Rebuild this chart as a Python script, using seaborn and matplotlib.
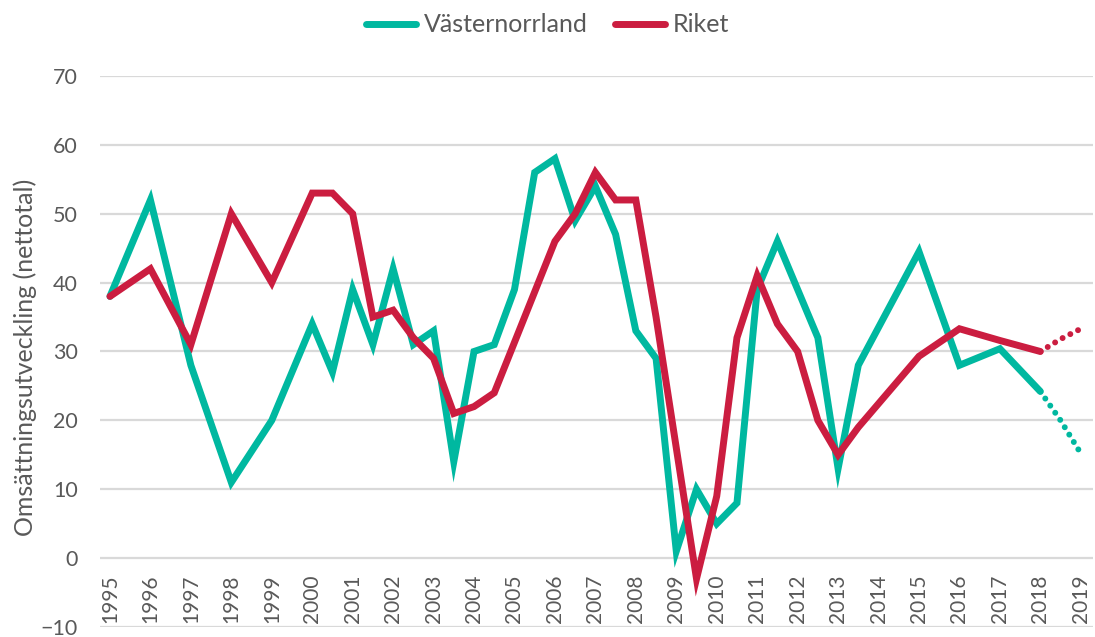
import numpy as np
import pandas as pd
import seaborn as sns
import matplotlib.pyplot as plt

# survey periods (year, half-year steps from 2000)
vn_period = [1995, 1996, 1997, 1998, 1999, 2000, 2000.5, 2001, 2001.5, 2002,
             2002.5, 2003, 2003.5, 2004, 2004.5, 2005, 2005.5, 2006, 2006.5,
             2007, 2007.5, 2008, 2008.5, 2009, 2009.5, 2010, 2010.5, 2011,
             2011.5, 2012.5, 2013, 2013.5, 2015, 2016, 2017, 2018]
vn_value = [38, 52, 28, 11, 20, 34, 27, 39, 31, 42,
            31, 33, 14, 30, 31, 39, 56, 58, 49,
            54, 47, 33, 29, 1, 10, 5, 8, 39,
            46, 32, 13, 28, 44.5, 28, 30.4, 24.2]

riket_period = [1995, 1996, 1997, 1998, 1999, 2000, 2000.5, 2001, 2001.5, 2002,
                2002.5, 2003, 2003.5, 2004, 2004.5, 2006, 2006.5, 2007, 2007.5,
                2008, 2008.5, 2009.5, 2010, 2010.5, 2011, 2011.5, 2012, 2012.5,
                2013, 2013.5, 2015, 2016, 2017, 2018]
riket_value = [38, 42, 31, 50, 40, 53, 53, 50, 35, 36,
               32, 29, 21, 22, 24, 46, 50, 56, 52,
               52, 35, -3, 9, 32, 41, 34, 30, 20,
               15, 19, 29.3, 33.3, 31.6, 30]

# forecast (dotted)
prog_period = [2018, 2018.5, 2019]
vn_prog = [24.2, 20.0, 15.2]
riket_prog = [30.0, 31.8, 33.3]

year_labels = [str(y) for y in range(1995, 2020)]

green = "#00b8a0"
red = "#cb1d40"
grey = "#595959"

sns.set_style("white")
plt.rcParams["font.family"] = ["Lato", "DejaVu Sans"]

fig = plt.figure(figsize=(10.95, 6.37), dpi=100)
ax = fig.add_axes([0.0913, 0.0157, 0.9067, 0.865])
ax.spines["bottom"].set_position(("data", 0))

df_vn = pd.DataFrame({"period": vn_period, "value": vn_value})
df_ri = pd.DataFrame({"period": riket_period, "value": riket_value})

sns.lineplot(data=df_vn, x="period", y="value", color=green, linewidth=5,
             solid_capstyle="round", solid_joinstyle="miter",
             label="Västernorrland", ax=ax, zorder=3)
sns.lineplot(data=df_ri, x="period", y="value", color=red, linewidth=5,
             solid_capstyle="round", solid_joinstyle="miter",
             label="Riket", ax=ax, zorder=4)

for vals, col in [(vn_prog, green), (riket_prog, red)]:
    dfp = pd.DataFrame({"period": prog_period, "value": vals})
    sns.lineplot(data=dfp, x="period", y="value", color=col, linewidth=4.3,
                 linestyle=(0, (0.001, 1.45)), dash_capstyle="round",
                 legend=False, ax=ax, zorder=3)

ax.set_xlim(1994.753, 2019.297)
ax.set_ylim(-10, 70)
ax.set_yticks(range(-10, 80, 10))
ax.set_xticks(range(1995, 2020))
ax.set_xticklabels(year_labels)

ax.grid(axis="y", color="#d9d9d9", linewidth=1.6)
ax.grid(axis="x", visible=False)
ax.set_axisbelow(True)
for s in ax.spines.values():
    s.set_visible(False)

ax.tick_params(axis="y", length=0, pad=16, labelsize=15.5, labelcolor=grey)
ax.tick_params(axis="x", length=0, pad=12, labelsize=15, labelcolor=grey,
               labelrotation=90)

ax.set_xlabel("")
ax.set_ylabel("Omsättningsutveckling (nettotal)", fontsize=18, color=grey)
ax.yaxis.set_label_coords(-0.0634, 0.49)

# legend centred on the whole figure, like the original
leg = ax.legend(loc="center", bbox_to_anchor=(0.5, 0.961),
                bbox_transform=fig.transFigure, ncol=2,
                frameon=False, fontsize=18, handlelength=2.0,
                handletextpad=0.3, columnspacing=1.1)
for t in leg.get_texts():
    t.set_color(grey)
for h in leg.get_lines():
    h.set_linewidth(5)
    h.set_solid_capstyle("round")

fig.savefig("out.png", dpi=100)
